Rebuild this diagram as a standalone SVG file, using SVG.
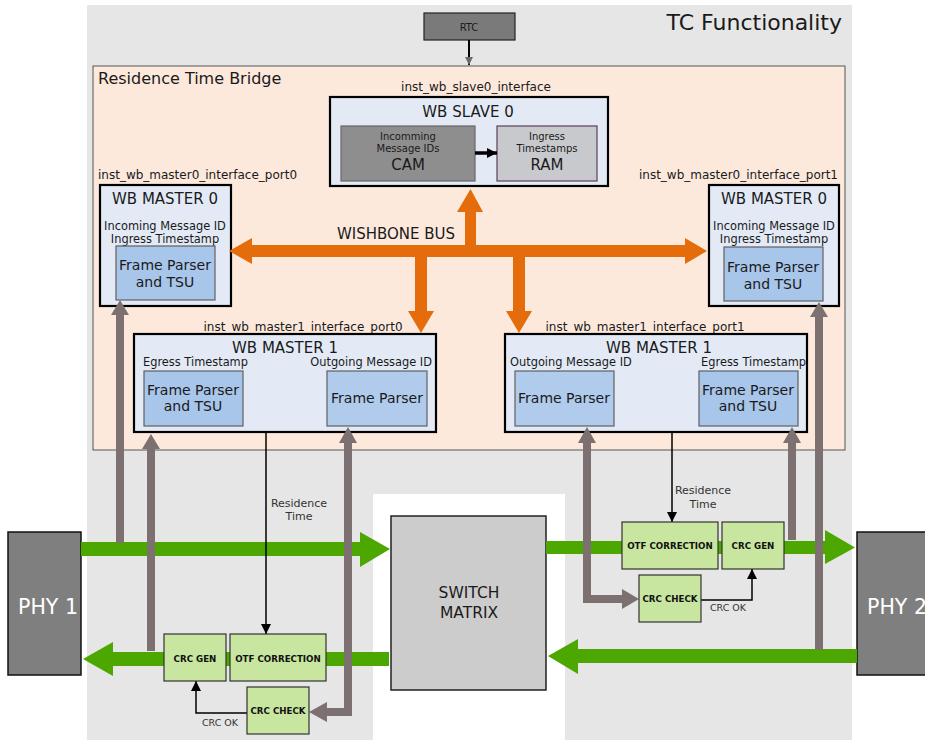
<svg xmlns="http://www.w3.org/2000/svg" width="925" height="740" viewBox="0 0 925 740">
  <style>
    text { font-family: "DejaVu Sans", Verdana, sans-serif; fill: #1a1a1a; }
    .c { text-anchor: middle; }
    .r { text-anchor: end; }
    .inst { font-size: 12px; }
    .title { font-size: 15px; }
    .sub { font-size: 11.4px; }
    .fp { font-size: 14px; }
    .blk { font-size: 8.7px; font-weight: bold; fill: #111; }
    .small { font-size: 9.5px; fill: #333; }
    .wb { fill: #e3eaf6; stroke: #000; stroke-width: 2.2; }
    .inner { fill: #a8c5ea; stroke: #5f5f5f; stroke-width: 1.2; }
    .crc { fill: #c8e69f; stroke: #333; stroke-width: 1.2; }
    .phy { fill: #7f7f7f; stroke: #111; stroke-width: 1.5; }
    .bus { fill: #e46c0a; }
    .eth { fill: #4ca700; }
    .ts { fill: #7d7070; }
    .tsl { fill: none; stroke: #7d7070; stroke-width: 8; }
    .sig { fill: none; stroke: #000; stroke-width: 1.5; }
  </style>
  <defs>
    <marker id="ah" markerUnits="userSpaceOnUse" markerWidth="10" markerHeight="10" refX="10" refY="5" orient="auto">
      <path d="M0,0 L10,5 L0,10 z" fill="#000"/>
    </marker>
    <marker id="ahg" markerUnits="userSpaceOnUse" markerWidth="8" markerHeight="8" refX="8" refY="4" orient="auto">
      <path d="M0,0 L8,4 L0,8 z" fill="#6a6a6a"/>
    </marker>
  </defs>

  <!-- backdrop areas -->
  <rect x="87" y="5" width="765" height="735" fill="#e6e6e6"/>
  <rect x="373" y="494" width="192" height="246" fill="#ffffff"/>
  <text x="842" y="30" class="r" style="font-size:22px">TC Functionality</text>

  <g id="residence_time_bridge">
    <rect x="93" y="66" width="752" height="384" fill="#fde9dc" stroke="#555" stroke-width="1"/>
    <text x="98" y="84" style="font-size:16px">Residence Time Bridge</text>
  </g>

  <g id="rtc">
    <rect x="424" y="13" width="91" height="27" fill="#7a7a7a" stroke="#222" stroke-width="1.2"/>
    <text x="469" y="31" class="c" style="font-size:10px">RTC</text>
  </g>

  <g id="wb_slave0">
    <text x="476" y="91" class="c inst">inst_wb_slave0_interface</text>
    <rect x="330" y="97" width="278" height="89" class="wb"/>
    <text x="468" y="117" class="c title">WB SLAVE 0</text>
    <rect x="341" y="126" width="134" height="55" fill="#8e8e8e" stroke="#666" stroke-width="1.2"/>
    <text x="408" y="140" class="c" style="font-size:10px">Incomming</text>
    <text x="408" y="152" class="c" style="font-size:10px">Message IDs</text>
    <text x="408" y="170" class="c title">CAM</text>
    <rect x="497" y="126" width="100" height="55" fill="#c8c9cc" stroke="#5a3f5a" stroke-width="1.2"/>
    <text x="547" y="140" class="c" style="font-size:10px">Ingress</text>
    <text x="547" y="152" class="c" style="font-size:10px">Timestamps</text>
    <text x="547" y="170" class="c title">RAM</text>
  </g>

  <g id="wb_master0_port0">
    <text x="98" y="179" class="inst">inst_wb_master0_interface_port0</text>
    <rect x="100" y="185" width="131" height="121" class="wb"/>
    <text x="165" y="204" class="c title">WB MASTER 0</text>
    <text x="165" y="230" class="c sub">Incoming Message ID</text>
    <text x="165" y="243" class="c sub">Ingress Timestamp</text>
    <rect x="116" y="246" width="99" height="54" class="inner"/>
    <text x="165" y="270" class="c fp">Frame Parser</text>
    <text x="165" y="287" class="c fp">and TSU</text>
  </g>

  <g id="wb_master0_port1">
    <text x="838" y="179" class="r inst">inst_wb_master0_interface_port1</text>
    <rect x="709" y="185" width="130" height="121" class="wb"/>
    <text x="774" y="204" class="c title">WB MASTER 0</text>
    <text x="774" y="230" class="c sub">Incoming Message ID</text>
    <text x="774" y="243" class="c sub">Ingress Timestamp</text>
    <rect x="724" y="247" width="99" height="54" class="inner"/>
    <text x="773" y="272" class="c fp">Frame Parser</text>
    <text x="773" y="289" class="c fp">and TSU</text>
  </g>

  <g id="wb_master1_port0">
    <text x="303" y="331" class="c inst">inst_wb_master1_interface_port0</text>
    <rect x="134" y="334" width="302" height="98" class="wb"/>
    <text x="285" y="353" class="c title">WB MASTER 1</text>
    <text x="143" y="366" class="sub">Egress Timestamp</text>
    <rect x="144" y="371" width="99" height="55" class="inner"/>
    <text x="193" y="395" class="c fp">Frame Parser</text>
    <text x="193" y="411" class="c fp">and TSU</text>
    <text x="432" y="366" class="r sub">Outgoing Message ID</text>
    <rect x="327" y="371" width="100" height="55" class="inner" style="fill:#b0cbec"/>
    <text x="377" y="403" class="c fp">Frame Parser</text>
  </g>

  <g id="wb_master1_port1">
    <text x="645" y="331" class="c inst">inst_wb_master1_interface_port1</text>
    <rect x="505" y="334" width="302" height="98" class="wb"/>
    <text x="659" y="353" class="c title">WB MASTER 1</text>
    <text x="510" y="366" class="sub">Outgoing Message ID</text>
    <rect x="515" y="371" width="99" height="55" class="inner" style="fill:#b0cbec"/>
    <text x="564" y="403" class="c fp">Frame Parser</text>
    <text x="806" y="366" class="r sub">Egress Timestamp</text>
    <rect x="699" y="371" width="99" height="55" class="inner"/>
    <text x="748" y="395" class="c fp">Frame Parser</text>
    <text x="748" y="411" class="c fp">and TSU</text>
  </g>

  <g id="switch_matrix">
    <rect x="391" y="516" width="155" height="174" fill="#cccccc" stroke="#222" stroke-width="1.5"/>
    <text x="469" y="598" class="c" style="font-size:15.5px">SWITCH</text>
    <text x="469" y="618" class="c" style="font-size:15.5px">MATRIX</text>
  </g>

  <g id="phy1">
    <rect x="8" y="532" width="73" height="143" class="phy"/>
    <text x="48" y="614" class="c" style="font-size:20.5px;fill:#fff">PHY 1</text>
  </g>

  <g id="phy2">
    <rect x="857" y="532" width="75" height="143" class="phy"/>
    <text x="897" y="614" class="c" style="font-size:20.5px;fill:#fff">PHY 2</text>
  </g>

  <!-- connectors -->
  <g id="connectors">
    <!-- wishbone bus -->
    <path class="bus" d="M229,251 L252,238 V245 H465 V212 H457 L470.5,189 L483,212 H476 V245 H685 V238 L707,251 L685,264 V257 H525 V311 H532 L519,333 L506,311 H513 V257 H427 V311 H434 L421,333 L408,311 H415 V257 H252 V264 Z"/>
    <text x="396" y="239" class="c" style="font-size:15px">WISHBONE BUS</text>

    <!-- ethernet data paths -->
    <path class="eth" d="M81,542 H360 V532 L390,549 L360,567 V556 H81 Z"/>
    <path class="eth" d="M389,652 H113 V642 L83,659 L113,676 V666 H389 Z"/>
    <path class="eth" d="M546,541 H825 V530 L855,547.5 L825,564 V554 H546 Z"/>
    <path class="eth" d="M857,649 H578 V639 L548,656 L578,674 V663 H857 Z"/>

    <!-- timestamp / frame taps -->
    <path class="tsl" d="M120,543 V314"/>
    <path class="ts" d="M120,300 L111,315 L129,315 Z"/>
    <path class="tsl" d="M151,651 V448"/>
    <path class="ts" d="M151,434 L142,449 L160,449 Z"/>
    <path class="tsl" d="M348,442 V712 H326"/>
    <path class="ts" d="M348,427 L339,443 L357,443 Z"/>
    <path class="ts" d="M309,712 L327,702 L327,722 Z"/>
    <path class="tsl" d="M587,442 V599 H623"/>
    <path class="ts" d="M587,427 L578,443 L596,443 Z"/>
    <path class="ts" d="M639,599 L622,589 L622,609 Z"/>
    <path class="tsl" d="M792,540 V442"/>
    <path class="ts" d="M792,427 L783,443 L801,443 Z"/>
    <path class="tsl" d="M819,650 V316"/>
    <path class="ts" d="M819,302 L810,317 L828,317 Z"/>

    <!-- control signals -->
    <line x1="469" y1="40" x2="469" y2="65" stroke="#000" stroke-width="2" marker-end="url(#ahg)"/>
    <line x1="475" y1="153" x2="497" y2="153" stroke="#000" stroke-width="3.5" marker-end="url(#ah)"/>
    <line x1="266" y1="432" x2="266" y2="634" class="sig" marker-end="url(#ah)"/>
    <text x="299" y="507" class="c" style="font-size:11px;fill:#333">Residence</text>
    <text x="299" y="520" class="c" style="font-size:11px;fill:#333">Time</text>
    <line x1="672" y1="432" x2="672" y2="522" class="sig" marker-end="url(#ah)"/>
    <text x="703" y="494" class="c" style="font-size:11px;fill:#333">Residence</text>
    <text x="703" y="508" class="c" style="font-size:11px;fill:#333">Time</text>
    <path d="M247,713 H196 V681" class="sig" marker-end="url(#ah)"/>
    <text x="220" y="726" class="c small">CRC OK</text>
    <path d="M701,600 H752 V569" class="sig" marker-end="url(#ah)"/>
    <text x="728" y="611" class="c small">CRC OK</text>
  </g>

  <g id="crc_gen_port0">
    <rect x="164" y="634" width="62" height="47" class="crc"/>
    <text x="195" y="662" class="c blk">CRC GEN</text>
  </g>
  <g id="otf_correction_port0">
    <rect x="230" y="634" width="96" height="47" class="crc"/>
    <text x="278" y="662" class="c blk">OTF CORRECTION</text>
  </g>
  <g id="crc_check_port0">
    <rect x="247" y="687" width="62" height="47" class="crc"/>
    <text x="278" y="714" class="c blk">CRC CHECK</text>
  </g>
  <g id="otf_correction_port1">
    <rect x="622" y="522" width="96" height="47" class="crc"/>
    <text x="670" y="549" class="c blk">OTF CORRECTION</text>
  </g>
  <g id="crc_gen_port1">
    <rect x="722" y="522" width="62" height="47" class="crc"/>
    <text x="753" y="549" class="c blk">CRC GEN</text>
  </g>
  <g id="crc_check_port1">
    <rect x="639" y="575" width="62" height="47" class="crc"/>
    <text x="670" y="602" class="c blk">CRC CHECK</text>
  </g>
</svg>
